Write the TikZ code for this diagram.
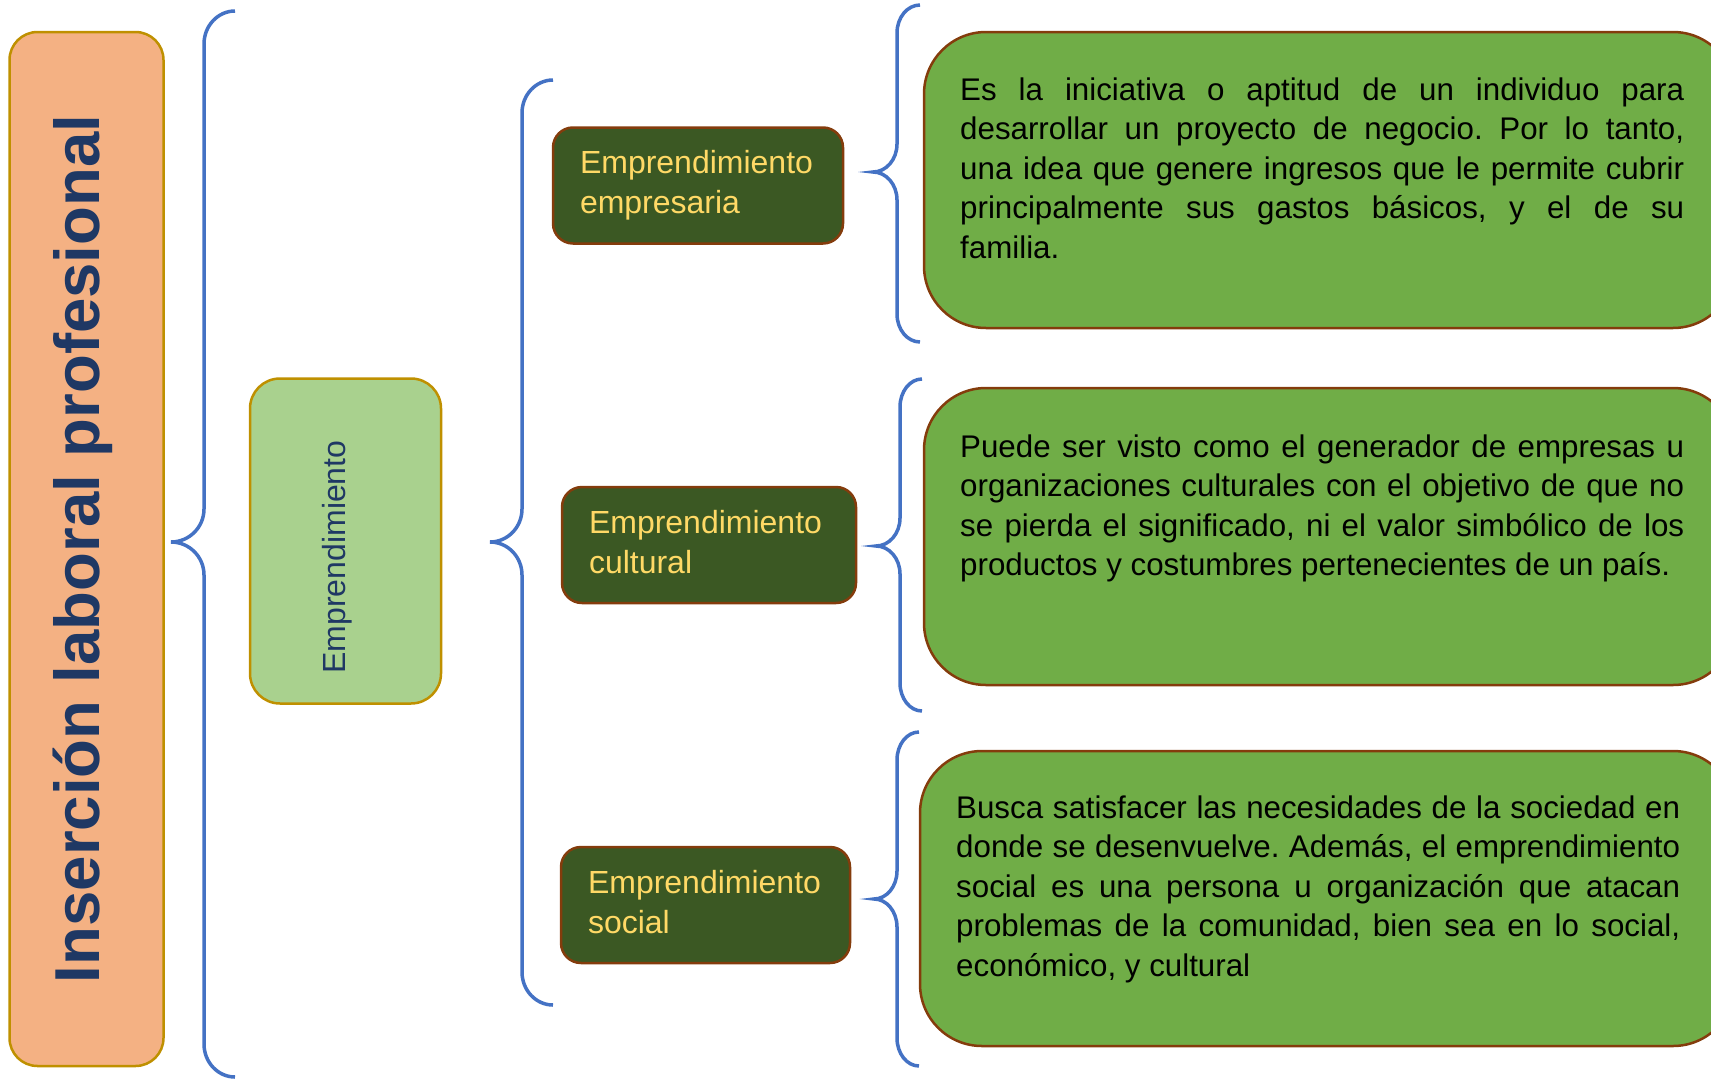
\documentclass[tikz,border=0pt]{standalone}
\usepackage{fontspec}
\setmainfont{Liberation Sans}
\frenchspacing
\definecolor{orangefill}{HTML}{F4B183}
\definecolor{goldline}{HTML}{BF9000}
\definecolor{lightgreen}{HTML}{A9D18E}
\definecolor{darkgreen}{HTML}{3B5823}
\definecolor{brownline}{HTML}{843C0C}
\definecolor{midgreen}{HTML}{70AD47}
\definecolor{yellowtext}{HTML}{FFD966}
\definecolor{navytext}{HTML}{1F3864}
\definecolor{braceblue}{HTML}{4472C4}
\newcommand\mybrace[8]{%
\draw[brc] (#1,#4) .. controls ({#1-0.552*(#1-#2)},#4) and (#2,{#4+0.448*#7}) .. (#2,{#4+#7})
 -- (#2,{#5-#8}) .. controls (#2,{#5-0.448*#8}) and ({#3+0.552*(#2-#3)},#5) .. (#3,#5)
 .. controls ({#3+0.552*(#2-#3)},#5) and (#2,{#5+0.448*#8}) .. (#2,{#5+#8})
 -- (#2,{#6-#7}) .. controls (#2,{#6-0.448*#7}) and ({#1-0.552*(#1-#2)},#6) .. (#1,#6);}
\begin{document}
\begin{tikzpicture}[x=1pt,y=-1pt,
  brc/.style={draw=braceblue, line width=3.5pt},
  obox/.style={draw=goldline, fill=orangefill, line width=2.5pt, rounded corners=28pt, inner sep=0pt},
  lbox/.style={draw=goldline, fill=lightgreen, line width=2.5pt, rounded corners=30pt, inner sep=0pt},
  dbox/.style={draw=brownline, fill=darkgreen, line width=2.5pt, rounded corners=20pt,
    inner xsep=27pt, inner ysep=0pt, align=left, text=yellowtext,
    font=\fontsize{32}{40}\selectfont},
  gbox/.style={draw=brownline, fill=midgreen, line width=2.5pt, rounded corners=62pt, inner sep=0pt},
  gtext/.style={inner sep=0pt, text width=724pt, align=justify, text=black,
    font=\fontsize{31.3}{39.5}\selectfont, anchor=north west}
]
\useasboundingbox (0,0) rectangle (1711,1079);
\clip (0,0) rectangle (1711,1079);

% title box
\node[obox, rotate=90, minimum width=1034pt, minimum height=154pt,
  text height=40pt, text depth=15pt, text=navytext,
  font=\fontsize{63.5}{70}\selectfont\bfseries] (title) at (86.5,549) {Inserción laboral profesional};

% Emprendimiento box
\node[lbox, minimum width=191pt, minimum height=325pt] (emp) at (345.5,541) {};
\node[rotate=90, anchor=base, inner sep=0pt, text=navytext,
  font=\fontsize{32}{36}\selectfont] (empt) at (345,557) {Emprendimiento};

% dark boxes
\node[dbox, text width=236pt, minimum height=116pt] (d1) at (698,185.5) {Emprendimiento\\empresaria\vphantom{p}};
\node[dbox, text width=240pt, minimum height=116pt] (d2) at (709,545) {Emprendimiento\\cultural\vphantom{p}};
\node[dbox, text width=235pt, minimum height=116pt] (d3) at (705.5,905) {Emprendimiento\\social\vphantom{p}};

% green boxes
\node[gbox, minimum width=811pt, minimum height=296pt] (g1) at (1329.5,180) {};
\node[gbox, minimum width=811pt, minimum height=297pt] (g2) at (1329.5,536.5) {};
\node[gbox, minimum width=815pt, minimum height=295pt] (g3) at (1327.5,898.5) {};

\node[gtext] (t1) at (960,75) {\noindent\rule{0pt}{25pt}Es la iniciativa o aptitud de un individuo para\linebreak desarrollar un proyecto de negocio. Por lo tanto,\linebreak una idea que genere ingresos que le permite cubrir\linebreak principalmente sus gastos básicos, y el de su\linebreak familia.};
\node[gtext] (t2) at (960,432) {\noindent\rule{0pt}{25pt}Puede ser visto como el generador de empresas u\linebreak organizaciones culturales con el objetivo de que no\linebreak se pierda el significado, ni el valor simbólico de los\linebreak productos y costumbres pertenecientes de un país.};
\node[gtext] (t3) at (956,793) {\noindent\rule{0pt}{25pt}Busca satisfacer las necesidades de la sociedad en\linebreak donde se desenvuelve. Además, el emprendimiento\linebreak social es una persona u organización que atacan\linebreak problemas de la comunidad, bien sea en lo social,\linebreak económico, y cultural};

% braces
\mybrace{235}{204}{171}{11}{542}{1077}{33}{33}
\mybrace{553}{522}{490}{80}{542}{1005}{33}{33}
\mybrace{920}{897}{873}{5}{172}{342}{28}{28}
\mybrace{922}{900}{876}{379}{546}{711}{28}{28}
\mybrace{919}{897}{874}{732}{899}{1066}{28}{28}
\end{tikzpicture}
\end{document}
